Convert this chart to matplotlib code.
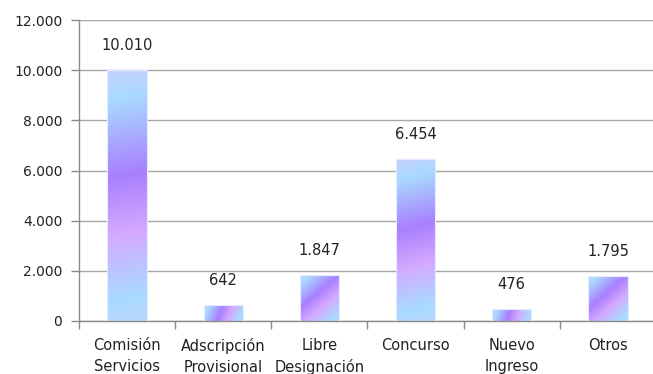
import numpy as np
import matplotlib
matplotlib.use("Agg")
import matplotlib.pyplot as plt
from matplotlib.colors import LinearSegmentedColormap
from matplotlib.patches import Rectangle
from matplotlib.ticker import FuncFormatter, FixedLocator

categories = ["Comisión\nServicios", "Adscripción\nProvisional", "Libre\nDesignación",
              "Concurso", "Nuevo\nIngreso", "Otros"]
values = [10010, 642, 1847, 6454, 476, 1795]
value_labels = ["10.010", "642", "1.847", "6.454", "476", "1.795"]
y_ticks = [0, 2000, 4000, 6000, 8000, 10000, 12000]

W, H = 653, 374
fig = plt.figure(figsize=(W / 100, H / 100), dpi=100)
ax_box = [79 / W, 53 / H, 577 / W, 301 / H]
ax = fig.add_axes(ax_box)

cmap = LinearSegmentedColormap.from_list(
    "barfill",
    [(0.0, "#c6d0ff"), (0.12, "#a8daff"), (0.42, "#a97ffe"),
     (0.65, "#d4aaff"), (0.9, "#a8daff"), (1.0, "#bcd6ff")],
)

x = np.arange(len(categories))
width = 0.41
xlim = (-0.5, len(categories) - 0.5)
ylim = (0, 12000)
ax.set_xlim(*xlim)
ax.set_ylim(*ylim)

# pixel size of one data unit, used to lay the gradient at a true diagonal
px_per_x = ax_box[2] * W / (xlim[1] - xlim[0])
px_per_y = ax_box[3] * H / (ylim[1] - ylim[0])

for xi, val, lab in zip(x, values, value_labels):
    left = xi - width / 2
    w_px = width * px_per_x
    h_px = val * px_per_y
    rect = Rectangle((left, 0), width, val, facecolor="none",
                     edgecolor="#e4ecff", linewidth=0.8, zorder=3)
    ax.add_patch(rect)
    nx, ny = 80, max(int(h_px * 2), 20)
    px = np.linspace(0, w_px, nx)[None, :]
    py = np.linspace(0, h_px, ny)[:, None]  # measured downward from bar top
    t = (px * w_px + py * h_px) / (w_px ** 2 + h_px ** 2)
    img = ax.imshow(t, cmap=cmap, extent=[left, left + width, 0, val],
                    origin="upper", aspect="auto", interpolation="bilinear",
                    zorder=2, vmin=0, vmax=1)
    img.set_clip_path(rect)
    ax.annotate(lab, (xi, val), xytext=(0, 12), textcoords="offset points",
                ha="center", va="bottom", fontsize=10.5, color="#222222")

ax.set_aspect("auto")
ax.set_xlim(*xlim)
ax.set_ylim(*ylim)

ax.yaxis.set_major_locator(FixedLocator(y_ticks))
ax.yaxis.set_major_formatter(FuncFormatter(lambda val, pos: f"{int(val):,}".replace(",", ".")))
ax.grid(axis="y", color="#a6a6a6", linewidth=1.0, zorder=0)
ax.set_axisbelow(True)

ax.set_xticks(x)
ax.set_xticklabels(categories, fontsize=10.5, color="#222222", linespacing=1.5)
ax.set_xticks(np.arange(-0.5, len(categories)), minor=True)
ax.tick_params(axis="x", which="major", length=0, pad=12)
ax.tick_params(axis="x", which="minor", length=6, color="#8a8a8a", width=1)
ax.tick_params(axis="y", length=6, color="#8a8a8a", width=1, labelsize=10,
               labelcolor="#222222", pad=6)

for side in ("top", "right"):
    ax.spines[side].set_visible(False)
for side in ("left", "bottom"):
    ax.spines[side].set_color("#8a8a8a")
    ax.spines[side].set_linewidth(1.0)

fig.savefig("out.png", dpi=100)
